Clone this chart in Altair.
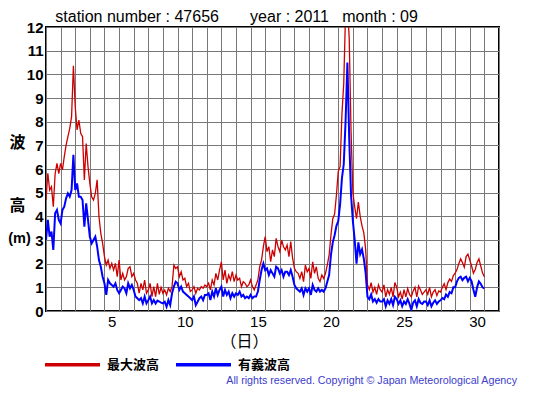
import altair as alt
import pandas as pd

# 3-hourly readings (8 per day), September 1 00:00 onward, last value = Sept 30 24:00
max_wave = [
    4.69, 5.82, 5.11, 5.25, 4.41, 5.80, 6.24, 5.80,
    6.24, 5.96, 6.52, 7.01, 7.37, 7.72, 8.21, 10.36,
    8.63, 7.65, 8.07, 7.51, 7.37, 5.54, 7.08, 6.10,
    5.39, 4.83, 4.69, 4.97, 5.54, 3.99, 3.28, 2.86,
    2.30, 1.94, 2.15, 1.80, 2.01, 1.73, 2.01, 1.45,
    2.15, 1.31, 1.59, 1.31, 1.45, 1.80, 1.87, 1.45,
    1.59, 1.31, 1.17, 0.75, 1.17, 0.89, 1.31, 0.75,
    0.89, 1.17, 0.61, 1.03, 0.61, 1.17, 0.70, 1.00,
    0.75, 0.89, 0.68, 0.96, 0.82, 1.03, 1.94, 1.80,
    1.87, 1.45, 1.66, 1.31, 1.38, 1.03, 1.17, 0.82,
    0.89, 1.03, 0.75, 0.96, 0.89, 1.03, 0.96, 1.10,
    1.03, 1.17, 0.89, 1.31, 1.10, 1.59, 1.31, 1.73,
    2.08, 1.31, 1.73, 1.17, 1.52, 1.31, 1.66, 1.24,
    1.52, 1.31, 1.38, 1.03, 1.24, 1.17, 1.03, 1.10,
    1.31, 1.03, 0.89, 1.10, 1.31, 1.87, 2.15, 2.72,
    3.14, 2.51, 2.72, 2.08, 2.58, 2.30, 3.07, 2.72,
    2.51, 3.00, 2.72, 2.58, 2.79, 2.30, 2.93, 2.23,
    1.80, 1.66, 1.59, 1.38, 1.66, 1.24, 1.94, 1.66,
    1.80, 1.38, 2.08, 1.59, 1.87, 1.38, 1.24, 1.52,
    1.38, 1.59, 1.94, 2.37, 3.20, 3.90, 4.10, 4.90,
    5.90, 6.10, 8.30, 9.60, 12.60, 13.00, 11.50, 7.60,
    5.00, 4.40, 3.90, 4.60, 4.00, 3.60, 3.30, 2.60,
    1.10, 0.90, 1.20, 0.80, 1.00, 0.70, 1.10, 0.90,
    0.80, 1.10, 0.60, 0.90, 0.70, 1.00, 0.60, 1.20,
    1.00, 0.60, 0.80, 0.50, 0.90, 0.60, 0.95, 0.70,
    0.60, 0.85, 1.00, 0.60, 1.05, 0.90, 0.70, 0.80,
    0.90, 0.70, 1.00, 0.60, 0.80, 0.90, 0.65, 0.85,
    0.80, 1.00, 1.15, 0.90, 1.20, 1.35, 1.25, 1.50,
    1.60, 1.75, 2.00, 2.20, 2.05, 1.85, 2.30, 2.40,
    2.15, 1.90, 1.60, 1.75, 2.05, 2.20, 1.90, 1.60,
    1.45,
]

sig_wave = [
    3.00, 3.85, 3.14, 3.35, 2.58, 4.13, 4.27, 3.85,
    3.70, 4.27, 4.41, 4.76, 4.97, 4.83, 5.11, 6.60,
    5.11, 5.39, 4.83, 4.83, 4.69, 3.56, 4.55, 3.85,
    3.14, 2.86, 3.00, 3.14, 2.72, 2.15, 1.87, 1.45,
    1.17, 0.68, 1.31, 1.17, 1.10, 1.03, 1.17, 0.89,
    0.75, 0.89, 1.03, 0.96, 0.75, 1.17, 0.96, 1.10,
    0.89, 0.61, 0.54, 0.46, 0.54, 0.32, 0.61, 0.32,
    0.46, 0.61, 0.32, 0.46, 0.32, 0.44, 0.40, 0.35,
    0.32, 0.39, 0.18, 0.46, 0.25, 0.75, 1.03, 1.24,
    1.17, 0.89, 1.03, 0.82, 0.75, 0.68, 0.61, 0.54,
    0.46, 0.61, 0.25, 0.39, 0.54, 0.61, 0.46, 0.68,
    0.68, 0.75, 0.46, 0.82, 0.61, 0.96, 0.68, 0.89,
    1.03, 0.61, 0.89, 0.68, 0.82, 0.54, 0.75, 0.61,
    0.75, 0.68, 0.82, 0.61, 0.68, 0.54, 0.61, 0.54,
    0.68, 0.54, 0.61, 0.61, 0.82, 1.31, 1.73, 2.01,
    1.73, 1.80, 1.52, 1.73, 1.59, 1.45, 1.87, 1.80,
    1.59, 1.73, 1.45, 1.66, 1.66, 1.52, 1.73, 1.45,
    1.10, 0.96, 0.89, 0.82, 0.96, 0.68, 0.96, 0.82,
    0.96, 0.68, 1.10, 0.89, 0.82, 0.96, 0.82, 0.89,
    0.82, 0.96, 1.24, 1.52, 2.37, 2.90, 3.20, 3.60,
    3.80, 4.50, 5.60, 6.20, 8.00, 10.50, 7.30, 4.90,
    3.80, 3.00, 2.00, 2.90, 2.40, 2.60, 2.20, 1.60,
    0.60, 0.50, 0.70, 0.40, 0.50, 0.35, 0.50, 0.40,
    0.40, 0.50, 0.20, 0.45, 0.30, 0.50, 0.25, 0.60,
    0.50, 0.30, 0.45, 0.20, 0.40, 0.30, 0.50, 0.30,
    0.05, 0.35, 0.45, 0.20, 0.50, 0.35, 0.30, 0.40,
    0.40, 0.25, 0.45, 0.20, 0.35, 0.45, 0.30, 0.40,
    0.45, 0.55, 0.50, 0.70, 0.60, 0.80, 0.75, 1.00,
    1.00, 1.25, 1.40, 1.45, 1.30, 1.40, 1.45, 1.25,
    1.40, 1.25, 0.90, 0.60, 1.00, 1.25, 1.15, 1.00,
    0.95,
]

series_names = ["最大波高", "有義波高"]
series_colors = ["#cc0000", "#0000ff"]
x_grid_days = list(range(1, 33))
y_ticks = list(range(0, 13))
title_text = ("station number : 47656" + "\u00a0" * 7 + "year : 2011"
              + "\u00a0" * 3 + "month : 09")
y_title_lines = ["波", "高"]
y_unit = "(m)"
copyright_text = "All rights reserved. Copyright \u00a9 Japan Meteorological Agency"

step = 0.125
df_max = pd.DataFrame({"day": [1 + i * step for i in range(len(max_wave))],
                       "h": max_wave, "series": series_names[0]})
df_sig = pd.DataFrame({"day": [1 + i * step for i in range(len(sig_wave))],
                       "h": sig_wave, "series": series_names[1]})

x_enc = alt.X("day:Q",
              scale=alt.Scale(domain=[1, 32], nice=False, zero=False),
              axis=alt.Axis(values=x_grid_days,
                            labelExpr="datum.value % 5 == 0 ? datum.value : ''",
                            labelOffset=7.3, labelOverlap=False, labelBound=False,
                            labelFont="Liberation Sans", labelFontSize=15,
                            labelColor="black", labelPadding=3,
                            ticks=False, domain=False,
                            title="（日）", titleFont="Noto Sans CJK JP",
                            titleFontSize=16, titleFontWeight="normal",
                            titleColor="black", titleX=198, titleY=35,
                            titleAlign="center", titleBaseline="alphabetic"))
y_enc = alt.Y("h:Q",
              scale=alt.Scale(domain=[0, 12], nice=False, zero=True),
              axis=alt.Axis(values=y_ticks, labelFont="Liberation Sans",
                            labelFontSize=15, labelFontWeight="bold",
                            labelColor="black", labelPadding=3,
                            ticks=False, domain=False,
                            title=y_title_lines, titleAngle=0,
                            titleFont="Noto Sans CJK JP", titleFontSize=16,
                            titleFontWeight="bold", titleColor="black",
                            titleLineHeight=63, titleAlign="center",
                            titleBaseline="middle", titleX=-29, titleY=115.5))

color_enc = alt.Color("series:N",
                      scale=alt.Scale(domain=series_names, range=series_colors),
                      legend=alt.Legend(title=None, orient="none", legendX=-3,
                                        legendY=308, direction="horizontal",
                                        symbolType="stroke", symbolSize=3025,
                                        symbolStrokeWidth=3.5,
                                        labelFont="Noto Sans CJK JP",
                                        labelFontSize=13, labelFontWeight="bold",
                                        labelColor="black", labelOffset=5,
                                        columnPadding=9, padding=0))

red = alt.Chart(df_max).mark_line(strokeWidth=1.3, clip=True).encode(
    x=x_enc, y=y_enc, color=color_enc)
blue = alt.Chart(df_sig).mark_line(strokeWidth=2, clip=True).encode(
    x=x_enc, y=y_enc, color=color_enc)
note = alt.Chart(alt.Data(values=[{"t": copyright_text}])).mark_text(
    align="right", baseline="middle", font="Liberation Sans", fontSize=10.7,
    color="#3c3ccc").encode(x=alt.value(471), y=alt.value(354), text="t:N")
head = alt.Chart(alt.Data(values=[{"t": title_text}])).mark_text(
    align="left", baseline="alphabetic", font="Liberation Sans", fontSize=16,
    color="black").encode(x=alt.value(9.3), y=alt.value(-5), text="t:N")
unit = alt.Chart(alt.Data(values=[{"t": y_unit}])).mark_text(
    align="center", baseline="middle", font="Liberation Sans", fontSize=14.5,
    fontWeight="bold", color="black").encode(
    x=alt.value(-26.5), y=alt.value(211.5), text="t:N")

chart = alt.layer(red, blue, note, head, unit).properties(
    width=453, height=284,
    padding={"left": 38, "top": 19, "right": 48, "bottom": 76},
    autosize=alt.AutoSizeParams(type="none"),
).configure_view(stroke="black", strokeWidth=2).configure_axis(
    gridColor="#777777", gridWidth=1, gridOpacity=1)

chart.save("out.html", embed_options={"renderer": "svg", "actions": False})
